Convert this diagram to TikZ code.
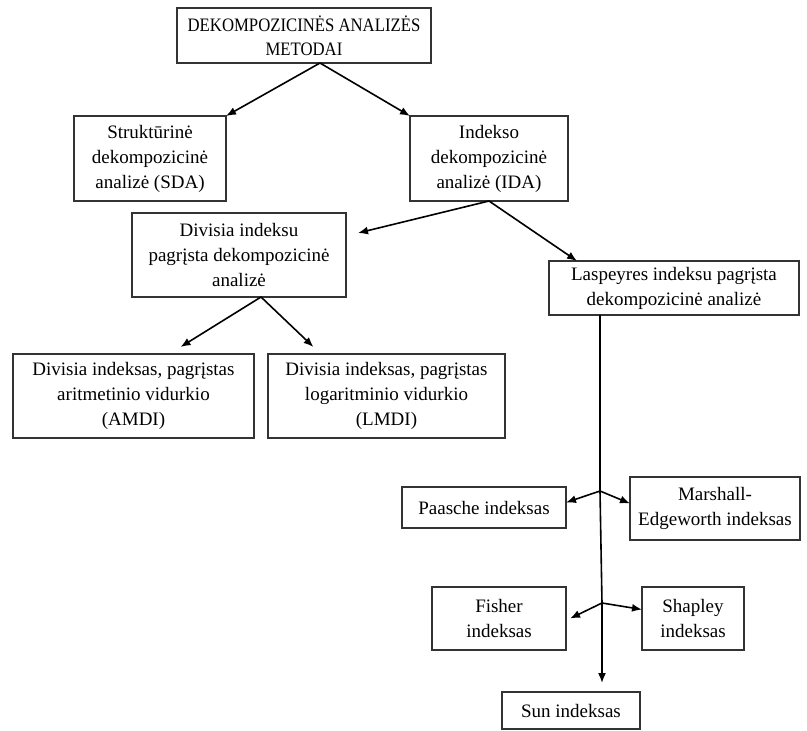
\documentclass[tikz,border=0pt]{standalone}
\usepackage{fontspec}
\setmainfont{Liberation Serif}
\newfontfamily\narrowfont[FakeStretch = 0.88]{Liberation Serif}
\usetikzlibrary{arrows.meta}

\begin{document}
\begin{tikzpicture}[> = {Latex[length = 10pt, width = 8pt]}, x = 1pt, y = -1pt,
	font = \fontsize{19}{25}\selectfont,
	box/.style = {draw = black!80, line width = 1.2pt, align = center, inner sep = 0pt, outer sep = 0pt},
	link/.style = {->, line width = 1.6pt}]
	
	\useasboundingbox (0, 0) rectangle (807, 731);
	
	% Top of the tree
	
	\node (top) [box, minimum width = 254pt, minimum height = 55pt, font = \narrowfont\fontsize{19}{24}\selectfont] at (304, 35.5) {DEKOMPOZICINĖS ANALIZĖS\\METODAI};
	
	% Two kinds of analysis
	
	\node (sda) [box, minimum width = 152pt, minimum height = 85pt] at (150, 158.5) {Struktūrinė\\dekompozicinė\\analizė (SDA)};
	\node (ida) [box, minimum width = 158pt, minimum height = 85pt] at (489, 158.5) {Indekso\\dekompozicinė\\analizė (IDA)};
	
	\draw [link] ([xshift = 16pt] top.south) -- (sda.north east);
	\draw [link] ([xshift = 16pt] top.south) -- (ida.north west);
	
	% Index based analysis
	
	\node (divisia) [box, minimum width = 214pt, minimum height = 84pt] at (239, 255) {Divisia indeksu\\pagrįsta dekompozicinė\\analizė};
	\node (lasp) [box, minimum width = 250pt, minimum height = 54pt] at (674, 288) {Laspeyres indeksu pagrįsta\\dekompozicinė analizė};
	
	\draw [link] (ida.south) -- ([xshift = 12pt, yshift = -20pt] divisia.north east);
	\draw [link] (ida.south) -- ([xshift = 28pt] lasp.north west);
	
	% Divisia branch
	
	\node (amdi) [box, minimum width = 241pt, minimum height = 84pt] at (133.5, 396) {Divisia indeksas, pagrįstas\\aritmetinio vidurkio\\(AMDI)};
	\node (lmdi) [box, minimum width = 237pt, minimum height = 84pt] at (386.5, 396) {Divisia indeksas, pagrįstas\\logaritminio vidurkio\\(LMDI)};
	
	\draw [link] ([xshift = 22pt] divisia.south) -- ([xshift = 47pt, yshift = 7pt] amdi.north);
	\draw [link] ([xshift = 22pt] divisia.south) -- ([xshift = -73pt, yshift = 7pt] lmdi.north);
	
	% Laspeyres branch
	
	\node (paasche) [box, minimum width = 164pt, minimum height = 41pt] at (484, 507.5) {Paasche indeksas};
	\node (marshall) [box, minimum width = 170pt, minimum height = 63pt] at (715, 508.5) {Marshall-\\Edgeworth indeksas};
	\node (fisher) [box, minimum width = 134pt, minimum height = 63pt] at (499, 618.5) {Fisher\\indeksas};
	\node (shapley) [box, minimum width = 102pt, minimum height = 63pt] at (693, 618.5) {Shapley\\indeksas};
	\node (sun) [box, minimum width = 138pt, minimum height = 37pt] at (571, 710.5) {Sun indeksas};
	
	\coordinate (split1) at (600, 491);
	\coordinate (split2) at (602, 603);
	
	\draw [link] (lasp.south -| split1) -- (split1) -- (split2) -- ([yshift = 9pt] sun.north -| split2);
	
	\draw [link] (split1) -- ([yshift = 5pt] paasche.east);
	\draw [link] (split1) -- ([yshift = 5pt] marshall.west);
	\draw [link] (split2) -- ([xshift = 4pt] fisher.east);
	\draw [link] (split2) -- ([yshift = 9pt] shapley.west);

\end{tikzpicture}
\end{document}
